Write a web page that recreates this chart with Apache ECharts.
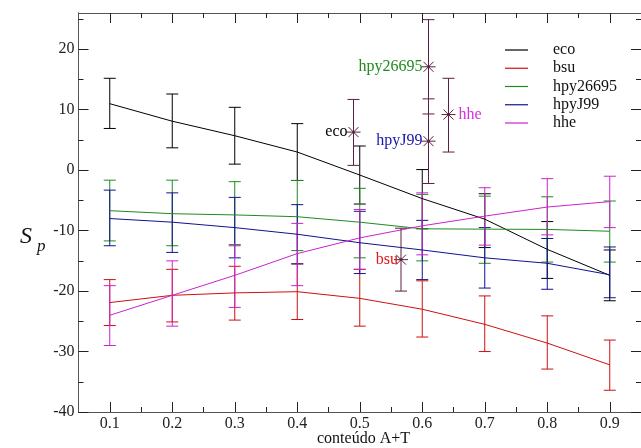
<!DOCTYPE html>
<html>
<head>
<meta charset="utf-8">
<script src="https://cdn.jsdelivr.net/npm/echarts@6/dist/echarts.min.js"></script>
<style>
  html, body { margin: 0; padding: 0; background: #ffffff; }
  #chart { width: 641px; height: 448px; }
</style>
</head>
<body>
<div id="chart"></div>
<script>
// A+T content of each sample bin
const xValues = [0.1, 0.2, 0.3, 0.4, 0.5, 0.6, 0.7, 0.8, 0.9];

// Tick positions
const xMajorTicks = [0.1, 0.2, 0.3, 0.4, 0.5, 0.6, 0.7, 0.8, 0.9];
const xMinorTicks = [0.15, 0.25, 0.35, 0.45, 0.55, 0.65, 0.75, 0.85];
const yMajorTicks = [-40, -30, -20, -10, 0, 10, 20];
const yMinorTicks = [-35, -25, -15, -5, 5, 15, 25];

// Fitted S_p curve and error range (low / high) per organism
const ecoCurve = [11.0, 8.1, 5.7, 3.0, -0.8, -4.7, -8.1, -13.1, -17.4];
const ecoLow   = [6.9, 3.7, 1.0, -1.7, -5.6, -9.7, -12.8, -17.9, -21.6];
const ecoHigh  = [15.2, 12.6, 10.4, 7.7, 4.0, 0.1, -3.9, -8.5, -13.2];

const bsuCurve = [-21.9, -20.7, -20.3, -20.1, -21.2, -23.0, -25.5, -28.6, -32.2];
const bsuLow   = [-25.7, -25.1, -24.8, -24.7, -25.8, -27.6, -30.0, -32.9, -36.4];
const bsuHigh  = [-18.1, -16.4, -15.9, -15.5, -16.4, -18.3, -20.8, -24.1, -28.1];

const hpy26695Curve = [-6.7, -7.2, -7.4, -7.7, -8.6, -9.7, -9.75, -9.8, -10.1];
const hpy26695Low   = [-11.7, -12.5, -12.5, -13.3, -14.5, -15.0, -15.4, -15.2, -15.2];
const hpy26695High  = [-1.65, -1.65, -1.9, -1.7, -3.0, -4.0, -4.3, -4.4, -5.1];

const hpyJ99Curve = [-8.0, -8.6, -9.5, -10.6, -12.0, -13.2, -14.5, -15.4, -17.3];
const hpyJ99Low   = [-12.5, -13.6, -14.5, -15.5, -17.1, -18.1, -19.5, -19.7, -21.1];
const hpyJ99High  = [-3.3, -3.75, -4.5, -5.7, -6.8, -8.3, -9.5, -11.3, -12.7];

const hheCurve = [-24.0, -20.7, -17.4, -13.8, -11.2, -9.2, -7.6, -6.1, -5.2];
const hheLow   = [-29.0, -25.8, -22.7, -19.1, -16.4, -14.0, -12.4, -10.7, -9.5];
const hheHigh  = [-19.1, -15.0, -12.3, -8.8, -6.5, -3.75, -2.9, -1.4, -1.0];

// Single measured points marked with a star
const pointNames = ['eco', 'hpy26695', 'hpyJ99', 'hhe', 'bsu'];
const pointX     = [0.49, 0.61, 0.61, 0.642, 0.566];
const pointY     = [6.3, 17.1, 4.8, 9.2, -14.8];
const pointLow   = [0.8, 9.3, -2.2, 3.0, -20.0];
const pointHigh  = [11.7, 24.9, 11.8, 15.2, -9.6];

const colors = {
  eco: '#000000',
  bsu: '#cc1111',
  hpy26695: '#1f8a1f',
  hpyJ99: '#12128f',
  hhe: '#cc22cc'
};
const labelColors = {
  eco: '#000000',
  bsu: '#e01515',
  hpy26695: '#1f8a1f',
  hpyJ99: '#1515b0',
  hhe: '#d830d8'
};
const pointColor = '#5a1f42';
const serif = "'Liberation Serif', 'DejaVu Serif', serif";

const groups = [
  ['eco', ecoCurve, ecoLow, ecoHigh],
  ['bsu', bsuCurve, bsuLow, bsuHigh],
  ['hpy26695', hpy26695Curve, hpy26695Low, hpy26695High],
  ['hpyJ99', hpyJ99Curve, hpyJ99Low, hpyJ99High],
  ['hhe', hheCurve, hheLow, hheHigh]
];

const CAP = 6;

function errorBarItem(params, api) {
  const x = api.value(0);
  const top = api.coord([x, api.value(2)]);
  const bot = api.coord([x, api.value(1)]);
  const style = { stroke: api.visual('color'), lineWidth: 1, fill: null };
  return {
    type: 'group',
    children: [
      { type: 'line', shape: { x1: top[0], y1: top[1], x2: bot[0], y2: bot[1] }, style },
      { type: 'line', shape: { x1: top[0] - CAP, y1: top[1], x2: top[0] + CAP, y2: top[1] }, style },
      { type: 'line', shape: { x1: bot[0] - CAP, y1: bot[1], x2: bot[0] + CAP, y2: bot[1] }, style }
    ]
  };
}

function starItem(params, api) {
  const c = api.coord([api.value(0), api.value(1)]);
  const top = api.coord([api.value(0), api.value(3)]);
  const bot = api.coord([api.value(0), api.value(2)]);
  const name = pointNames[params.dataIndex];
  const style = { stroke: pointColor, lineWidth: 1, fill: null };
  const r = 7, d = 5;
  const onLeft = name !== 'hhe';
  return {
    type: 'group',
    children: [
      { type: 'line', shape: { x1: top[0], y1: top[1], x2: bot[0], y2: bot[1] }, style },
      { type: 'line', shape: { x1: top[0] - CAP, y1: top[1], x2: top[0] + CAP, y2: top[1] }, style },
      { type: 'line', shape: { x1: bot[0] - CAP, y1: bot[1], x2: bot[0] + CAP, y2: bot[1] }, style },
      { type: 'line', shape: { x1: c[0] - r, y1: c[1], x2: c[0] + r, y2: c[1] }, style },
      { type: 'line', shape: { x1: c[0] - d, y1: c[1] - d, x2: c[0] + d, y2: c[1] + d }, style },
      { type: 'line', shape: { x1: c[0] - d, y1: c[1] + d, x2: c[0] + d, y2: c[1] - d }, style },
      { type: 'circle', shape: { cx: c[0], cy: c[1], r: 1.3 }, style: { fill: pointColor } },
      {
        type: 'text',
        x: onLeft ? c[0] - (name === 'bsu' ? 3 : 6) : c[0] + 10,
        y: c[1],
        style: {
          text: name,
          fill: labelColors[name],
          font: "16px " + serif,
          align: onLeft ? 'right' : 'left',
          verticalAlign: 'middle'
        }
      }
    ]
  };
}

const series = [];
groups.forEach(([name, curve, low, high]) => {
  series.push({
    name: name,
    type: 'line',
    data: xValues.map((x, i) => [x, curve[i]]),
    symbol: 'none',
    color: colors[name],
    lineStyle: { width: 1, color: colors[name] },
    silent: true,
    z: 3
  });
  series.push({
    name: name + ' range',
    type: 'custom',
    renderItem: errorBarItem,
    data: xValues.map((x, i) => [x, low[i], high[i]]),
    encode: { x: 0, y: [1, 2] },
    itemStyle: { color: colors[name] },
    silent: true,
    z: 2
  });
});
series.push({
  name: 'points',
  type: 'custom',
  renderItem: starItem,
  data: pointX.map((x, i) => [x, pointY[i], pointLow[i], pointHigh[i]]),
  encode: { x: 0, y: [1, 2, 3] },
  silent: true,
  z: 5
});

const axisColor = '#555555';
function xAxisDef(position, ticks, len, labels) {
  return {
    type: 'value', min: 0.05, max: 0.95, position: position, gridIndex: 0,
    axisLine: { show: true, onZero: false, lineStyle: { color: axisColor, width: 1 } },
    axisTick: { show: true, inside: true, length: len, customValues: ticks, lineStyle: { color: '#222', width: 1 } },
    axisLabel: labels ? {
      show: true, customValues: ticks, margin: 4, color: '#222',
      fontFamily: serif, fontSize: 16,
      formatter: v => v.toFixed(1)
    } : { show: false },
    splitLine: { show: false }
  };
}
function yAxisDef(position, ticks, len, labels) {
  return {
    type: 'value', min: -40, max: 26, position: position, gridIndex: 0,
    axisLine: { show: true, onZero: false, lineStyle: { color: axisColor, width: 1 } },
    axisTick: { show: true, inside: true, length: len, customValues: ticks, lineStyle: { color: '#222', width: 1 } },
    axisLabel: labels ? {
      show: true, customValues: ticks, margin: 4, color: '#222',
      fontFamily: serif, fontSize: 16,
      formatter: v => String(v)
    } : { show: false },
    splitLine: { show: false }
  };
}

const chart = echarts.init(document.getElementById('chart'), null, { renderer: 'canvas' });
chart.setOption({
  animation: false,
  backgroundColor: '#ffffff',
  grid: { left: 78.5, top: 13, width: 569.7, height: 399 },
  xAxis: [
    xAxisDef('bottom', xMajorTicks, 10, true),
    xAxisDef('bottom', xMinorTicks, 5, false),
    xAxisDef('top', xMajorTicks, 10, false),
    xAxisDef('top', xMinorTicks, 5, false)
  ],
  yAxis: [
    yAxisDef('left', yMajorTicks, 10, true),
    yAxisDef('left', yMinorTicks, 5, false),
    yAxisDef('right', yMajorTicks, 10, false),
    yAxisDef('right', yMinorTicks, 5, false)
  ],
  legend: {
    data: ['eco', 'bsu', 'hpy26695', 'hpyJ99', 'hhe'],
    orient: 'vertical',
    left: 500,
    top: 36,
    icon: 'rect',
    itemWidth: 23,
    itemHeight: 1.2,
    itemGap: 0.25,
    selectedMode: false,
    textStyle: {
      fontFamily: serif, fontSize: 16, color: '#111',
      lineHeight: 18, padding: [0, 0, 0, 20]
    }
  },
  graphic: [
    {
      type: 'text', left: 20, top: 225,
      style: { text: 'S', font: "italic 24px " + serif, fill: '#111' }
    },
    {
      type: 'text', left: 37, top: 238,
      style: { text: 'p', font: "italic 17px " + serif, fill: '#111' }
    },
    {
      type: 'text', left: 317, top: 431,
      style: { text: 'conteúdo A+T', font: "16px " + serif, fill: '#111' }
    }
  ],
  series: series
});
</script>
</body>
</html>
